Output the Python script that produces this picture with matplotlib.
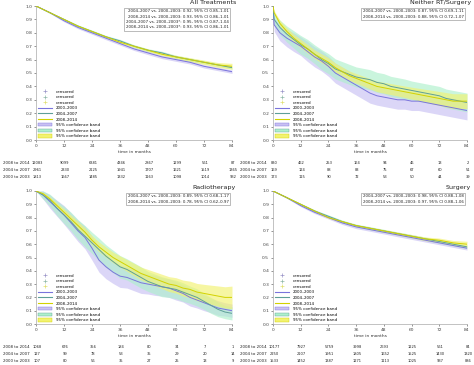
import matplotlib
matplotlib.use('Agg')
import matplotlib.pyplot as plt
from matplotlib.lines import Line2D
from matplotlib.patches import Patch
from matplotlib.transforms import Bbox, TransformedBbox, blended_transform_factory

# ---------------------------------------------------------------
# colours
# ---------------------------------------------------------------
LINE = ['#7a74dc', '#5e9f98', '#d2d200']
BAND = ['#c9c0f3', '#aef0cc', '#f2f270']
CENS = ['#9a94c8', '#8fb8a8', '#e0e070']

periods = ['2000–2003', '2004–2007', '2008–2014']
risk_labels = ['2008 to 2014', '2004 to 2007', '2000 to 2003']
risk_times = [0, 12, 24, 36, 48, 60, 72, 84]

# ---------------------------------------------------------------
# data: survival curves
# ---------------------------------------------------------------
t6 = [0, 6, 12, 18, 24, 30, 36, 42, 48, 54, 60, 66, 72, 78, 84]
t3 = [0, 3, 6, 9, 12, 15, 18, 21, 24, 27, 30, 33, 36, 39, 42, 45, 48, 51, 54, 57,
      60, 63, 66, 69, 72, 75, 78, 81, 84]
t3b = [0, 0.5, 3, 6, 9, 12, 15, 18, 21, 24, 27, 30, 33, 36, 39, 42, 45, 48, 51, 54,
       57, 60, 63, 66, 69, 72, 75, 78, 81, 84]

# All treatments
all_s00 = [1.0, 0.95, 0.89, 0.84, 0.80, 0.76, 0.72, 0.68, 0.65, 0.62, 0.60, 0.58, 0.55, 0.53, 0.51]
all_s04 = [1.0, 0.95, 0.90, 0.85, 0.81, 0.77, 0.74, 0.70, 0.67, 0.65, 0.62, 0.60, 0.58, 0.56, 0.54]
all_s08 = [1.0, 0.95, 0.90, 0.85, 0.81, 0.77, 0.73, 0.70, 0.67, 0.64, 0.62, 0.60, 0.58, 0.56, 0.55]
all_h00 = [0, 0.005, 0.008, 0.010, 0.011, 0.012, 0.012, 0.012, 0.013, 0.013, 0.013, 0.013, 0.013, 0.013, 0.013]
all_h04 = [0, 0.005, 0.007, 0.009, 0.010, 0.010, 0.011, 0.011, 0.011, 0.012, 0.012, 0.012, 0.012, 0.012, 0.012]
all_h08 = [0, 0.003, 0.004, 0.005, 0.006, 0.007, 0.008, 0.009, 0.010, 0.011, 0.012, 0.014, 0.016, 0.018, 0.022]

# Neither RT / surgery
nei_s00 = [1.0, 0.86, 0.80, 0.76, 0.73, 0.70, 0.66, 0.62, 0.59, 0.55, 0.50, 0.47, 0.44, 0.41, 0.38,
           0.35, 0.33, 0.32, 0.31, 0.30, 0.30, 0.29, 0.29, 0.28, 0.27, 0.26, 0.25, 0.24, 0.23, 0.22]
nei_s04 = [1.0, 0.90, 0.84, 0.79, 0.75, 0.71, 0.68, 0.64, 0.60, 0.57, 0.53, 0.51, 0.49, 0.47, 0.46,
           0.45, 0.43, 0.42, 0.40, 0.39, 0.38, 0.37, 0.36, 0.35, 0.34, 0.33, 0.31, 0.30, 0.29, 0.28]
nei_s08 = [1.0, 0.95, 0.87, 0.81, 0.76, 0.72, 0.68, 0.64, 0.61, 0.58, 0.54, 0.51, 0.48, 0.46, 0.44,
           0.42, 0.40, 0.39, 0.38, 0.37, 0.36, 0.35, 0.34, 0.33, 0.32, 0.31, 0.30, 0.29, 0.29, 0.29]
nei_h00 = [0, 0.05, 0.06, 0.065, 0.07, 0.07, 0.075, 0.075, 0.075, 0.075, 0.075, 0.075, 0.075, 0.075, 0.075,
           0.075, 0.07, 0.07, 0.07, 0.07, 0.07, 0.07, 0.07, 0.07, 0.07, 0.07, 0.07, 0.07, 0.07, 0.07]
nei_h04 = [0, 0.045, 0.055, 0.06, 0.065, 0.07, 0.07, 0.07, 0.075, 0.075, 0.075, 0.075, 0.075, 0.075, 0.075,
           0.075, 0.075, 0.075, 0.075, 0.075, 0.075, 0.07, 0.07, 0.07, 0.07, 0.07, 0.07, 0.07, 0.07, 0.07]
nei_h08 = [0, 0.015, 0.022, 0.026, 0.028, 0.03, 0.031, 0.032, 0.033, 0.034, 0.034, 0.035, 0.035, 0.036, 0.037,
           0.038, 0.039, 0.04, 0.041, 0.042, 0.043, 0.044, 0.046, 0.048, 0.05, 0.052, 0.054, 0.055, 0.055, 0.055]

# Radiotherapy
rad_s00 = [1.0, 0.97, 0.92, 0.87, 0.82, 0.76, 0.70, 0.65, 0.57, 0.48, 0.43, 0.39, 0.36, 0.35, 0.33,
           0.31, 0.30, 0.29, 0.28, 0.27, 0.25, 0.23, 0.20, 0.18, 0.16, 0.14, 0.12, 0.11, 0.10]
rad_s04 = [1.0, 0.97, 0.93, 0.87, 0.82, 0.77, 0.71, 0.66, 0.61, 0.56, 0.51, 0.47, 0.43, 0.41, 0.38,
           0.35, 0.32, 0.30, 0.28, 0.27, 0.26, 0.24, 0.22, 0.20, 0.17, 0.14, 0.11, 0.09, 0.08]
rad_s08 = [1.0, 0.98, 0.94, 0.89, 0.84, 0.79, 0.74, 0.69, 0.63, 0.58, 0.54, 0.50, 0.47, 0.44, 0.41,
           0.38, 0.36, 0.34, 0.32, 0.30, 0.29, 0.27, 0.26, 0.24, 0.23, 0.22, 0.21, 0.20, 0.20]
rad_h00 = [0, 0.03, 0.05, 0.06, 0.07, 0.075, 0.08, 0.085, 0.09, 0.09, 0.09, 0.085, 0.085, 0.08, 0.08,
           0.08, 0.075, 0.075, 0.07, 0.07, 0.07, 0.065, 0.065, 0.06, 0.06, 0.055, 0.055, 0.05, 0.05]
rad_h04 = [0, 0.03, 0.045, 0.055, 0.065, 0.07, 0.075, 0.08, 0.08, 0.085, 0.085, 0.085, 0.085, 0.08, 0.08,
           0.08, 0.075, 0.075, 0.075, 0.07, 0.07, 0.07, 0.065, 0.065, 0.06, 0.06, 0.055, 0.05, 0.05]
rad_h08 = [0, 0.01, 0.015, 0.02, 0.025, 0.028, 0.03, 0.032, 0.034, 0.036, 0.038, 0.04, 0.042, 0.044, 0.046,
           0.048, 0.05, 0.052, 0.054, 0.056, 0.058, 0.06, 0.062, 0.065, 0.068, 0.072, 0.076, 0.08, 0.085]

# Surgery
sur_s00 = [1.0, 0.95, 0.89, 0.84, 0.80, 0.76, 0.73, 0.71, 0.69, 0.67, 0.65, 0.63, 0.61, 0.59, 0.57]
sur_s04 = [1.0, 0.95, 0.90, 0.85, 0.81, 0.77, 0.74, 0.72, 0.70, 0.68, 0.66, 0.64, 0.62, 0.60, 0.58]
sur_s08 = [1.0, 0.95, 0.90, 0.85, 0.80, 0.77, 0.74, 0.72, 0.70, 0.68, 0.66, 0.64, 0.63, 0.61, 0.60]
sur_h00 = [0, 0.005, 0.008, 0.010, 0.011, 0.012, 0.013, 0.013, 0.013, 0.014, 0.014, 0.014, 0.014, 0.014, 0.014]
sur_h04 = [0, 0.005, 0.007, 0.009, 0.010, 0.011, 0.011, 0.012, 0.012, 0.012, 0.013, 0.013, 0.013, 0.013, 0.013]
sur_h08 = [0, 0.003, 0.004, 0.005, 0.006, 0.007, 0.008, 0.009, 0.010, 0.011, 0.012, 0.014, 0.016, 0.018, 0.022]

# hazard ratio boxes
all_hr = ['2004–2007 vs. 2000–2003: 0.92, 95% CI 0.85–1.01',
          '2008–2014 vs. 2000–2003: 0.93, 95% CI 0.86–1.01',
          '2004–2007 vs. 2000–2003*: 0.95, 95% CI 0.87–1.04',
          '2008–2014 vs. 2000–2003*: 0.93, 95% CI 0.86–1.01']
nei_hr = ['2004–2007 vs. 2000–2003: 0.87, 95% CI 0.69–1.11',
          '2008–2014 vs. 2000–2003: 0.88, 95% CI 0.72–1.07']
rad_hr = ['2004–2007 vs. 2000–2003: 0.89, 95% CI 0.68–1.17',
          '2008–2014 vs. 2000–2003: 0.78, 95% CI 0.62–0.97']
sur_hr = ['2004–2007 vs. 2000–2003: 0.98, 95% CI 0.88–1.08',
          '2008–2014 vs. 2000–2003: 0.97, 95% CI 0.88–1.06']

# numbers at risk (rows: 2008-14, 2004-07, 2000-03)
all_risk = [[12083, 9099, 6381, 4346, 2867, 1299, 561, 87],
            [2961, 2330, 2125, 1941, 1707, 1621, 1519, 1365],
            [1813, 1667, 1485, 1332, 1163, 1098, 1014, 932]]
nei_risk = [[830, 462, 253, 164, 94, 46, 13, 2],
            [169, 124, 88, 83, 75, 67, 60, 51],
            [173, 115, 90, 72, 53, 50, 44, 39]]
rad_risk = [[1068, 676, 356, 184, 80, 34, 7, 1],
            [127, 99, 78, 53, 35, 29, 20, 14],
            [107, 80, 56, 35, 27, 25, 13, 9]]
sur_risk = [[10177, 7927, 5759, 3998, 2693, 1225, 561, 84],
            [2250, 2107, 1951, 1805, 1652, 1525, 1430, 1320],
            [1533, 1452, 1387, 1271, 1113, 1025, 937, 886]]

# ---------------------------------------------------------------
# figure
# ---------------------------------------------------------------
W, H = 474, 365
fig = plt.figure(figsize=(W / 100, H / 100), dpi=100, facecolor='white')


def px_axes(x0, y0, x1, y1):
    return fig.add_axes([x0 / W, 1 - y1 / H, (x1 - x0) / W, (y1 - y0) / H])


def panel(ax, title, times, curves, hws, hr_lines, risk, clip_x0):
    for s, h, bc in zip(curves, hws, BAND):
        lo = [a - b for a, b in zip(s, h)]
        hi = [a + b for a, b in zip(s, h)]
        ax.fill_between(times, lo, hi, color=bc, alpha=0.65, lw=0, zorder=1)
    for s, lc in zip(curves, LINE):
        ax.plot(times, s, color=lc, lw=0.7, zorder=3)

    ax.set_xlim(0, 84)
    ax.set_ylim(0, 1.0)
    ax.set_xticks(risk_times)
    ax.set_yticks([i / 10 for i in range(11)])
    ax.set_yticklabels(['%.1f' % (i / 10) for i in range(11)])
    ax.tick_params(labelsize=3.2, length=1.2, width=0.4, pad=1.5, colors='#444444')
    ax.set_xlabel('time in months', fontsize=3.2, labelpad=1.5, color='#333333')
    for sp in ['top', 'right']:
        ax.spines[sp].set_visible(False)
    for sp in ['left', 'bottom']:
        ax.spines[sp].set_color('#aaaaaa')
        ax.spines[sp].set_linewidth(0.5)

    ax.text(1.02, 1.008, title, transform=ax.transAxes, ha='right', va='bottom',
            fontsize=4.6, color='#222222')
    ax.text(0.982, 0.975, '\n'.join(hr_lines), transform=ax.transAxes, ha='right', va='top',
            fontsize=2.9, color='#222222', linespacing=1.45, zorder=6,
            bbox=dict(boxstyle='square,pad=0.35', fc='white', ec='#888888', lw=0.4))

    handles = [Line2D([], [], ls='none', marker='+', ms=2.2, mew=0.5, color=c) for c in CENS]
    handles += [Line2D([], [], color=c, lw=0.8) for c in LINE]
    handles += [Patch(facecolor=b, edgecolor=l, lw=0.3) for b, l in zip(BAND, LINE)]
    labels = ['censored'] * 3 + periods + ['95% confidence band'] * 3
    ax.legend(handles, labels, loc='lower left', bbox_to_anchor=(0.0, 0.0), frameon=False,
              fontsize=2.9, handlelength=3.6, handleheight=0.9, handletextpad=1.0,
              labelspacing=0.38, borderpad=0.2, borderaxespad=0.2)

    trans = blended_transform_factory(ax.transData, ax.transAxes)
    clip = TransformedBbox(Bbox([[clip_x0, 0], [clip_x0 + 0.5, 1]]), fig.transFigure)
    for row, (lab, vals) in enumerate(zip(risk_labels, risk)):
        yy = -0.172 - row * 0.053
        tx = ax.text(-2.9, yy, lab, transform=trans, ha='right', va='center',
                     fontsize=2.9, color='#222222')
        tx.set_clip_box(clip)
        tx.set_clip_on(True)
        for t, v in zip(risk_times, vals):
            ax.text(t + 0.4, yy, str(v), transform=trans, ha='center', va='center',
                    fontsize=2.6, color='#222222')


ax1 = px_axes(36, 6, 232, 140)
ax2 = px_axes(273, 6, 467, 140)
ax3 = px_axes(36, 191, 232, 324)
ax4 = px_axes(273, 191, 467, 324)

panel(ax1, 'All Treatments', t6, [all_s00, all_s04, all_s08], [all_h00, all_h04, all_h08],
      all_hr, all_risk, 0.0)
panel(ax2, 'Neither RT/Surgery', t3b, [nei_s00, nei_s04, nei_s08], [nei_h00, nei_h04, nei_h08],
      nei_hr, nei_risk, 0.5)
panel(ax3, 'Radiotherapy', t3, [rad_s00, rad_s04, rad_s08], [rad_h00, rad_h04, rad_h08],
      rad_hr, rad_risk, 0.0)
panel(ax4, 'Surgery', t6, [sur_s00, sur_s04, sur_s08], [sur_h00, sur_h04, sur_h08],
      sur_hr, sur_risk, 0.5)

fig.savefig('out.png', dpi=100, facecolor='white')
